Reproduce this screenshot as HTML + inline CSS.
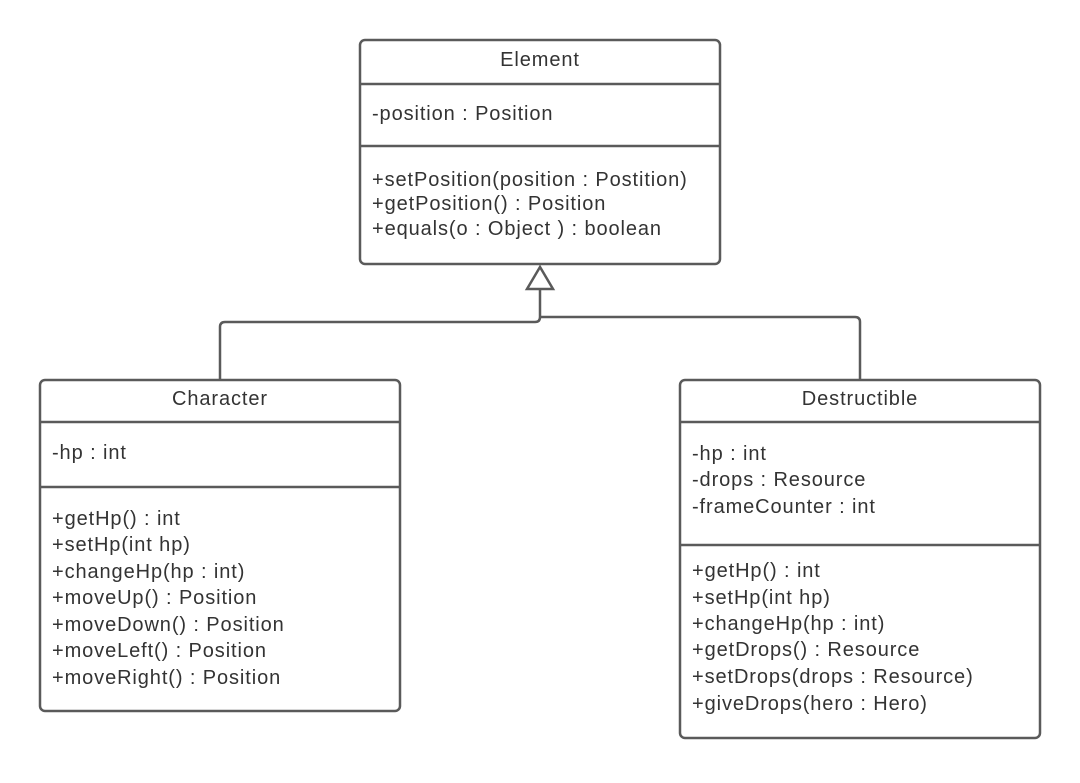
<!DOCTYPE html>
<html><head><meta charset="utf-8"><style>
html,body{margin:0;padding:0;background:#fff;}
svg text{font-family:"Liberation Sans",sans-serif;font-size:20px;letter-spacing:0.9px;fill:#333;}
</style></head><body>
<svg width="1080" height="778" viewBox="0 0 1080 778" xmlns="http://www.w3.org/2000/svg">
<g fill="none" stroke="#5a5a5a" stroke-width="2.5">
<rect x="360" y="40" width="360" height="224" rx="5"/>
<line x1="360" y1="84" x2="720" y2="84"/>
<line x1="360" y1="146" x2="720" y2="146"/>
<rect x="40" y="380" width="360" height="331" rx="5"/>
<line x1="40" y1="422" x2="400" y2="422"/>
<line x1="40" y1="487" x2="400" y2="487"/>
<rect x="680" y="380" width="360" height="358" rx="5"/>
<line x1="680" y1="422" x2="1040" y2="422"/>
<line x1="680" y1="545" x2="1040" y2="545"/>
<path d="M220 380 V327 Q220 322 225 322 H535 Q540 322 540 317 V289"/>
<path d="M860 380 V322 Q860 317 855 317 H540"/>
<path d="M540 267 L527 289 H553 Z" fill="#fff"/>
</g>
<text x="540" y="66" text-anchor="middle">Element</text>
<text x="372" y="120">-position : Position</text>
<text x="372" y="186">+setPosition(position : Postition)</text>
<text x="372" y="210">+getPosition() : Position</text>
<text x="372" y="235">+equals(o : Object ) : boolean</text>
<text x="220" y="405" text-anchor="middle">Character</text>
<text x="52" y="459">-hp : int</text>
<text x="52" y="525">+getHp() : int</text>
<text x="52" y="551">+setHp(int hp)</text>
<text x="52" y="578">+changeHp(hp : int)</text>
<text x="52" y="604">+moveUp() : Position</text>
<text x="52" y="631">+moveDown() : Position</text>
<text x="52" y="657">+moveLeft() : Position</text>
<text x="52" y="684">+moveRight() : Position</text>
<text x="860" y="405" text-anchor="middle">Destructible</text>
<text x="692" y="460">-hp : int</text>
<text x="692" y="486">-drops : Resource</text>
<text x="692" y="513">-frameCounter : int</text>
<text x="692" y="577">+getHp() : int</text>
<text x="692" y="604">+setHp(int hp)</text>
<text x="692" y="630">+changeHp(hp : int)</text>
<text x="692" y="656">+getDrops() : Resource</text>
<text x="692" y="683">+setDrops(drops : Resource)</text>
<text x="692" y="710">+giveDrops(hero : Hero)</text>
</svg>
</body></html>
